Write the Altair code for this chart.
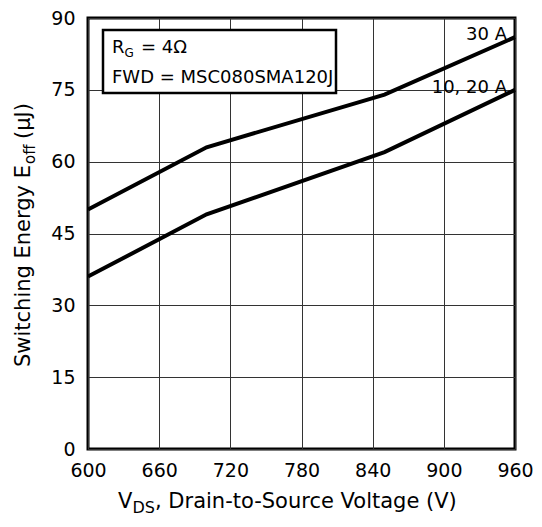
import altair as alt
import pandas as pd

# Data
voltage = [600, 700, 850, 960]
eoff_30a = [50, 63, 74, 86]
eoff_10_20a = [36, 49, 62, 75]
x_ticks = [600, 660, 720, 780, 840, 900, 960]
y_ticks = [0, 15, 30, 45, 60, 75, 90]

df = pd.DataFrame({
    "V": voltage * 2,
    "E": eoff_30a + eoff_10_20a,
    "series": ["30 A"] * len(voltage) + ["10, 20 A"] * len(voltage),
})

W, H = 427, 431
FONT = "DejaVu Sans"
TS = 19   # tick label size
TT = 21   # axis title size

x = alt.X("V:Q",
          scale=alt.Scale(domain=[600, 960], nice=False, zero=False),
          axis=alt.Axis(values=x_ticks, title=None, grid=True, ticks=False, domain=False,
                        labelFlush=False, labelOverlap=False,
                        labelFontSize=TS, labelPadding=12, labelColor="black", labelFont=FONT,
                        gridColor="#333", gridWidth=1, gridOpacity=1))
y = alt.Y("E:Q",
          scale=alt.Scale(domain=[0, 90], nice=False),
          axis=alt.Axis(values=y_ticks, title=None, grid=True, ticks=False, domain=False,
                        labelFlush=False, labelOverlap=False,
                        labelFontSize=TS, labelPadding=13, labelColor="black", labelFont=FONT,
                        gridColor="#333", gridWidth=1, gridOpacity=1))

lines = alt.Chart(df).mark_line(color="black", strokeWidth=4).encode(
    x=x, y=y, detail="series:N")


def txt(s, px, py, size=TS, align="left", angle=0, baseline="alphabetic"):
    return alt.Chart(pd.DataFrame({"t": [s]})).mark_text(
        align=align, baseline=baseline, fontSize=size, font=FONT, color="black", angle=angle
    ).encode(x=alt.value(px), y=alt.value(py), text="t:N")


box = alt.Chart(pd.DataFrame({"a": [0]})).mark_rect(
    fill="white", stroke="black", strokeWidth=2.5
).encode(x=alt.value(15), x2=alt.value(248), y=alt.value(12), y2=alt.value(75))

layers = [
    lines,
    box,
    # legend box text
    txt("R", 24, 35, 18),
    txt("G", 36.5, 39, 12),
    txt("= 4Ω", 53, 35, 18),
    txt("FWD = MSC080SMA120J", 24, 65, 18),
    # series labels
    txt("30 A", 419, 22, 18, align="right"),
    txt("10, 20 A", 419, 75, 18, align="right"),
    # x axis title
    txt("V", 30, 490, TT),
    txt("DS", 44.5, 495, 16),
    txt(", Drain-to-Source Voltage (V)", 67, 490, TT),
    # y axis title (rotated)
    txt("Switching Energy E", -58, 147, TT, align="right", angle=270),
    txt("off", -53, 146, 15, align="left", angle=270),
    txt("(μJ)", -58, 121, TT, align="left", angle=270),
]

chart = alt.layer(*layers).properties(
    width=W, height=H,
    autosize=alt.AutoSizeParams(type="none"),
    padding={"left": 80, "top": 10, "right": 19, "bottom": 67},
).configure_view(stroke="black", strokeWidth=3)

chart.save("out.html", embed_options={"renderer": "svg", "actions": False})
